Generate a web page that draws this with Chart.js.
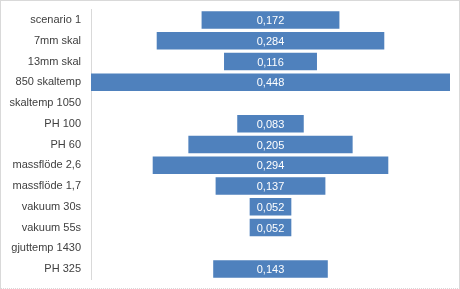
<!DOCTYPE html>
<html>
<head>
<meta charset="utf-8">
<script src="https://cdn.jsdelivr.net/npm/chart.js@4"></script>
<style>
  html, body { margin: 0; padding: 0; background: #fff; }
  #wrap { width: 458px; height: 287px; border: 1px solid #d9d9d9; border-bottom-style: dotted; position: relative; }
</style>
</head>
<body>
<div id="wrap"><canvas id="tornadoChart"></canvas></div>
<script>
// Categories and values
const categories = ['scenario 1', '7mm skal', '13mm skal', '850 skaltemp', 'skaltemp 1050', 'PH 100', 'PH 60',
    'massflöde 2,6', 'massflöde 1,7', 'vakuum 30s', 'vakuum 55s', 'gjuttemp 1430', 'PH 325'];
const values = [0.172, 0.284, 0.116, 0.448, null, 0.083, 0.205, 0.294, 0.137, 0.052, 0.052, null, 0.143];

// Bars are centred on zero, so each one spans -v/2 .. v/2
const spans = values.map(function(v) {
    return v === null ? null : [-v / 2, v / 2];
});

// Draw the value in the middle of each bar
const centreLabels = {
    id: 'centreLabels',
    afterDatasetsDraw: function(chart) {
        const ctx = chart.ctx;
        const meta = chart.getDatasetMeta(0);
        const xScale = chart.scales.x;
        ctx.save();
        ctx.font = '11px "Liberation Sans", Arial, sans-serif';
        ctx.fillStyle = '#ffffff';
        ctx.textAlign = 'center';
        ctx.textBaseline = 'middle';
        meta.data.forEach(function(bar, i) {
            if (values[i] === null) return;
            ctx.fillText(values[i].toFixed(3).replace('.', ','), xScale.getPixelForValue(0), bar.y + 1);
        });
        ctx.restore();
    }
};

const ctx = document.getElementById('tornadoChart').getContext('2d');
new Chart(ctx, {
    type: 'bar',
    data: {
        labels: categories,
        datasets: [{
            data: spans,
            backgroundColor: '#4f81bd',
            borderWidth: 0,
            barPercentage: 0.85,
            categoryPercentage: 1
        }]
    },
    options: {
        indexAxis: 'y',
        responsive: true,
        maintainAspectRatio: false,
        animation: false,
        layout: { padding: { top: 1, bottom: 1, right: 9, left: 0 } },
        scales: {
            x: { display: false, min: -0.224, max: 0.224 },
            y: {
                grid: { display: false },
                border: { display: true, color: '#d9d9d9' },
                afterFit: function(scale) { scale.width = 90; },
                ticks: {
                    padding: 2,
                    color: '#404040',
                    font: { family: '"Liberation Sans", Arial, sans-serif', size: 11 }
                }
            }
        },
        plugins: {
            legend: { display: false },
            tooltip: { enabled: false }
        }
    },
    plugins: [centreLabels]
});
</script>
</body>
</html>
